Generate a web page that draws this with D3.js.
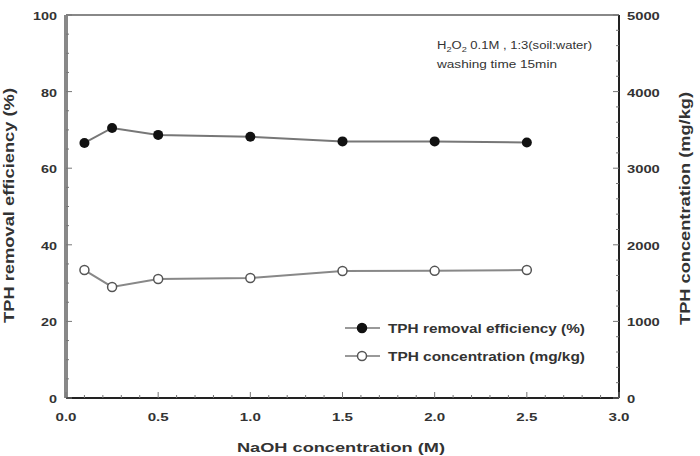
<!DOCTYPE html>
<html>
<head>
<meta charset="utf-8">
<script src="https://cdn.jsdelivr.net/npm/d3@7"></script>
<style>
  body { margin: 0; background: #fff; }
  text { font-family: "Liberation Sans", Arial, sans-serif; fill: #333; }
</style>
</head>
<body>
<svg id="chart" width="700" height="456"></svg>
<script>
// data
var naoh = [0.1, 0.25, 0.5, 1.0, 1.5, 2.0, 2.5];
var removal = [66.6, 70.5, 68.7, 68.2, 67.0, 67.0, 66.7];      // %
var tphConc = [1670, 1450, 1553, 1567, 1658, 1660, 1670];      // mg/kg
var xTicks = [0, 0.5, 1.0, 1.5, 2.0, 2.5, 3.0];
var leftTicks = [0, 20, 40, 60, 80, 100];
var rightTicks = [0, 1000, 2000, 3000, 4000, 5000];

var svg = d3.select("#chart");
var L = 66, R = 619, T = 15, B = 398;

var x = d3.scaleLinear().domain([0, 3]).range([L, R]);
var yL = d3.scaleLinear().domain([0, 100]).range([B, T]);
var yR = d3.scaleLinear().domain([0, 5000]).range([B, T]);

// frame
svg.append("line").attr("x1", L).attr("x2", R).attr("y1", T).attr("y2", T)
  .attr("stroke", "#888").attr("stroke-width", 2);
svg.append("line").attr("x1", L).attr("x2", L).attr("y1", T).attr("y2", B)
  .attr("stroke", "#888").attr("stroke-width", 4);
svg.append("line").attr("x1", R).attr("x2", R).attr("y1", T).attr("y2", B)
  .attr("stroke", "#222").attr("stroke-width", 2);
svg.append("line").attr("x1", L).attr("x2", R).attr("y1", B).attr("y2", B)
  .attr("stroke", "#222").attr("stroke-width", 2);

// inward ticks
var tickColor = "#777";
d3.range(0, 3.001, 0.1).forEach(function(v) {
  var major = Math.abs(v * 2 - Math.round(v * 2)) < 1e-6;
  svg.append("line").attr("x1", x(v)).attr("x2", x(v))
    .attr("y1", B).attr("y2", B - (major ? 6 : 3))
    .attr("stroke", tickColor).attr("stroke-width", 1);
});
d3.range(0, 100.001, 5).forEach(function(v) {
  var major = v % 20 === 0;
  svg.append("line").attr("x1", L).attr("x2", L + (major ? 6 : 3))
    .attr("y1", yL(v)).attr("y2", yL(v))
    .attr("stroke", tickColor).attr("stroke-width", 1);
});
d3.range(0, 5000.1, 200).forEach(function(v) {
  var major = v % 1000 === 0;
  svg.append("line").attr("x1", R).attr("x2", R - (major ? 6 : 3))
    .attr("y1", yR(v)).attr("y2", yR(v))
    .attr("stroke", tickColor).attr("stroke-width", 1);
});

// tick labels
svg.selectAll(".xl").data(xTicks).enter().append("text")
  .attr("x", function(d) { return x(d) - 10.5; }).attr("y", 421)
  .attr("font-size", 11).attr("font-weight", "bold")
  .attr("textLength", 21).attr("lengthAdjust", "spacingAndGlyphs")
  .text(function(d) { return d3.format(".1f")(d); });
svg.selectAll(".yl").data(leftTicks).enter().append("text")
  .attr("x", function(d) { return 57 - String(d).length * 8; })
  .attr("y", function(d) { return yL(d) + 5; })
  .attr("font-size", 11).attr("font-weight", "bold")
  .attr("textLength", function(d) { return String(d).length * 8; })
  .attr("lengthAdjust", "spacingAndGlyphs")
  .text(function(d) { return d; });
svg.selectAll(".yr").data(rightTicks).enter().append("text")
  .attr("x", 627).attr("y", function(d) { return yR(d) + 5; })
  .attr("font-size", 11).attr("font-weight", "bold")
  .attr("textLength", function(d) { return String(d).length * 8.2; })
  .attr("lengthAdjust", "spacingAndGlyphs")
  .text(function(d) { return d; });

// axis titles
svg.append("text").attr("x", 237).attr("y", 452)
  .attr("font-size", 13).attr("font-weight", "bold")
  .attr("textLength", 208).attr("lengthAdjust", "spacingAndGlyphs")
  .text("NaOH concentration (M)");
svg.append("text").attr("transform", "translate(14,323) rotate(-90)")
  .attr("font-size", 14).attr("font-weight", "bold")
  .attr("textLength", 235).attr("lengthAdjust", "spacingAndGlyphs")
  .text("TPH removal efficiency (%)");
svg.append("text").attr("transform", "translate(690,325) rotate(-90)")
  .attr("font-size", 14).attr("font-weight", "bold")
  .attr("textLength", 233).attr("lengthAdjust", "spacingAndGlyphs")
  .text("TPH concentration (mg/kg)");

// annotation
var ann = svg.append("text").attr("x", 437).attr("y", 49).attr("font-size", 10)
  .attr("textLength", 155).attr("lengthAdjust", "spacingAndGlyphs");
ann.append("tspan").text("H");
ann.append("tspan").attr("font-size", 7).attr("dy", 3).text("2");
ann.append("tspan").attr("dy", -3).text("O");
ann.append("tspan").attr("font-size", 7).attr("dy", 3).text("2");
ann.append("tspan").attr("dy", -3).text(" 0.1M , 1:3(soil:water)");
svg.append("text").attr("x", 437).attr("y", 68).attr("font-size", 10)
  .attr("textLength", 120).attr("lengthAdjust", "spacingAndGlyphs")
  .text("washing time 15min");

// series
var lineL = d3.line().x(function(d, i) { return x(naoh[i]); }).y(function(d) { return yL(d); });
var lineR = d3.line().x(function(d, i) { return x(naoh[i]); }).y(function(d) { return yR(d); });

svg.append("path").datum(removal).attr("d", lineL)
  .attr("fill", "none").attr("stroke", "#777").attr("stroke-width", 2);
svg.append("path").datum(tphConc).attr("d", lineR)
  .attr("fill", "none").attr("stroke", "#888").attr("stroke-width", 2);

svg.selectAll(".pf").data(removal).enter().append("circle")
  .attr("cx", function(d, i) { return x(naoh[i]); })
  .attr("cy", function(d) { return yL(d); })
  .attr("r", 5).attr("fill", "#111");
svg.selectAll(".po").data(tphConc).enter().append("circle")
  .attr("cx", function(d, i) { return x(naoh[i]); })
  .attr("cy", function(d) { return yR(d); })
  .attr("r", 4.5).attr("fill", "#fff").attr("stroke", "#555").attr("stroke-width", 1.5);

// legend
var legend = [
  { label: "TPH removal efficiency (%)", fill: "#111", stroke: "#111", y: 328 },
  { label: "TPH concentration (mg/kg)", fill: "#fff", stroke: "#555", y: 356 }
];
legend.forEach(function(d) {
  svg.append("line").attr("x1", 345).attr("x2", 380).attr("y1", d.y).attr("y2", d.y)
    .attr("stroke", "#777").attr("stroke-width", 1.5);
  svg.append("circle").attr("cx", 362).attr("cy", d.y).attr("r", 4.5)
    .attr("fill", d.fill).attr("stroke", d.stroke).attr("stroke-width", 1.5);
  svg.append("text").attr("x", 388).attr("y", d.y + 4.5).attr("font-size", 12)
    .attr("font-weight", "bold").attr("textLength", 197).attr("lengthAdjust", "spacingAndGlyphs")
    .text(d.label);
});
</script>
</body>
</html>
